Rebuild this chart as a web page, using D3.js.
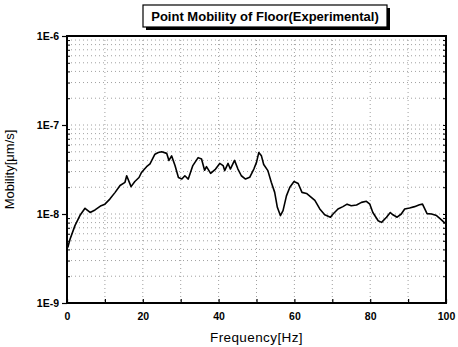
<!DOCTYPE html>
<html><head><meta charset="utf-8">
<script src="https://cdn.jsdelivr.net/npm/d3@7"></script>
<style>body{margin:0;background:#fff}svg{display:block}</style>
</head><body>
<svg id="c" width="458" height="347"></svg>
<script>
const freq = [0.2,0.8,2.1,3.4,4.75,6.1,7.4,9.0,10,11.3,12.7,14,15.3,15.75,16.9,17.9,19,19.7,21,21.9,23.2,24.1,25,26.3,26.9,27.6,28.5,29.4,30.3,31.1,32,33.2,34.6,35.5,36.3,36.8,37.9,39.2,40.3,41.2,41.6,42.5,43.1,44.2,45.1,46,47.1,48.2,49.3,50,50.6,51.3,51.9,53,53.9,54.8,55.5,56.3,57,57.9,58.8,59.9,61,62,63.2,64.3,65.4,66.7,68,69.5,70.2,71.5,72.8,73.9,75,76.4,77.7,79,79.9,80.7,82.1,83,84.3,85.3,86,87.1,88.2,89.1,90.4,91.7,93,93.8,94.4,95,96.2,97.5,98.8,99.7];
const mobility = [4.2e-9,5.2e-9,7.4e-9,9.6e-9,1.16e-8,1.04e-8,1.11e-8,1.24e-8,1.29e-8,1.47e-8,1.75e-8,2.09e-8,2.27e-8,2.69e-8,2.03e-8,2.32e-8,2.57e-8,2.95e-8,3.4e-8,3.65e-8,4.7e-8,4.9e-8,5.0e-8,4.8e-8,4.0e-8,4.5e-8,3.5e-8,2.57e-8,2.47e-8,2.69e-8,2.47e-8,3.5e-8,4.3e-8,4.15e-8,3.1e-8,3.4e-8,2.86e-8,3.2e-8,3.7e-8,3.5e-8,3.07e-8,3.7e-8,3.2e-8,4.0e-8,3.2e-8,2.69e-8,2.47e-8,2.58e-8,3.2e-8,3.8e-8,4.9e-8,4.5e-8,3.6e-8,3.07e-8,2.27e-8,1.75e-8,1.19e-8,9.6e-9,1.09e-8,1.6e-8,2.0e-8,2.32e-8,2.2e-8,1.75e-8,1.7e-8,1.56e-8,1.42e-8,1.14e-8,9.8e-9,9.2e-9,1.0e-8,1.14e-8,1.21e-8,1.29e-8,1.24e-8,1.26e-8,1.35e-8,1.39e-8,1.29e-8,1.04e-8,8.4e-9,8.05e-9,9.2e-9,1.04e-8,9.8e-9,9.2e-9,1.0e-8,1.14e-8,1.17e-8,1.21e-8,1.27e-8,1.29e-8,1.14e-8,1.01e-8,1.0e-8,9.6e-9,8.6e-9,7.9e-9];
const xTicks = [0,20,40,60,80,100];
const xGrid = [10,20,30,40,50,60,70,80,90];
const yTicks = [1e-9,1e-8,1e-7,1e-6];
const yTickLabels = ["1E-9","1E-8","1E-7","1E-6"];
const title = "Point Mobility of Floor(Experimental)";
const xLabel = "Frequency[Hz]";
const yLabel = "Mobility[\u03bcm/s]";

const svg = d3.select("#c");
const L = 67, R = 446, T = 36, B = 303;
const x = d3.scaleLinear().domain([0,100]).range([L,R]);
const y = d3.scaleLog().domain([1e-9,1e-6]).range([B,T]);

const minor = [];
[1e-9,1e-8,1e-7].forEach(d => { for (let k=2;k<=9;k++) minor.push(d*k); });

// grid
const g = svg.append("g").attr("stroke","#888").attr("stroke-width",0.8).attr("stroke-dasharray","1,3");
g.selectAll("line.v").data(xGrid).join("line").attr("x1",d=>x(d)).attr("x2",d=>x(d)).attr("y1",T).attr("y2",B);
g.selectAll("line.h").data(minor.concat([1e-8,1e-7])).join("line").attr("x1",L).attr("x2",R).attr("y1",d=>y(d)).attr("y2",d=>y(d));

const font = "Liberation Sans, Arial, sans-serif";
const ax = svg.append("g").attr("transform",`translate(0,${B})`)
  .call(d3.axisBottom(x).tickValues(d3.range(0,101,10)).tickSize(-4).tickFormat(d=>xTicks.includes(d)?d:""));
ax.select(".domain").remove();
ax.selectAll("text").attr("font-family",font).attr("font-weight","bold").attr("font-size",10.5).attr("fill","#000").attr("dy","1.35em");
ax.selectAll("line").attr("stroke","#000").attr("stroke-width",1.2);

const ay = svg.append("g").attr("transform",`translate(${L},0)`)
  .call(d3.axisLeft(y).tickValues(yTicks).tickSize(5).tickFormat((d,i)=>yTickLabels[i]));
ay.select(".domain").remove();
ay.selectAll("text").attr("font-family",font).attr("font-weight","bold").attr("font-size",10.5).attr("fill","#000");
ay.selectAll("line").attr("stroke","#000").attr("stroke-width",1.2);

const aym = svg.append("g").attr("transform",`translate(${L},0)`)
  .call(d3.axisLeft(y).tickValues(minor).tickSize(-3).tickFormat(""));
aym.select(".domain").remove();
aym.selectAll("line").attr("stroke","#000");
const ayr = svg.append("g").attr("transform",`translate(${R},0)`)
  .call(d3.axisRight(y).tickValues(minor.concat(yTicks)).tickSize(-3).tickFormat(""));
ayr.select(".domain").remove();
ayr.selectAll("line").attr("stroke","#000");

svg.append("rect").attr("x",L).attr("y",T).attr("width",R-L).attr("height",B-T)
  .attr("fill","none").attr("stroke","#000").attr("stroke-width",2);

svg.append("path").datum(freq.map((f,i)=>[f,mobility[i]]))
  .attr("fill","none").attr("stroke","#000").attr("stroke-width",1.6).attr("stroke-linejoin","round")
  .attr("d", d3.line().x(d=>x(d[0])).y(d=>y(d[1])));

svg.append("rect").attr("x",146).attr("y",8).attr("width",244).attr("height",22).attr("fill","#000");
svg.append("rect").attr("x",143).attr("y",5).attr("width",244).attr("height",22).attr("fill","#fff").attr("stroke","#000").attr("stroke-width",1.2);
svg.append("text").attr("x",265).attr("y",20.5).attr("text-anchor","middle").attr("font-family",font)
  .attr("font-weight","bold").attr("font-size",13).text(title);

svg.append("text").attr("x",(L+R)/2).attr("y",342).attr("text-anchor","middle").attr("font-family",font)
  .attr("font-size",13.5).attr("letter-spacing",0.4).text(xLabel);
svg.append("text").attr("transform",`translate(14,${(T+B)/2}) rotate(-90)`).attr("text-anchor","middle")
  .attr("font-family",font).attr("font-size",13).text(yLabel);
</script>
</body></html>
